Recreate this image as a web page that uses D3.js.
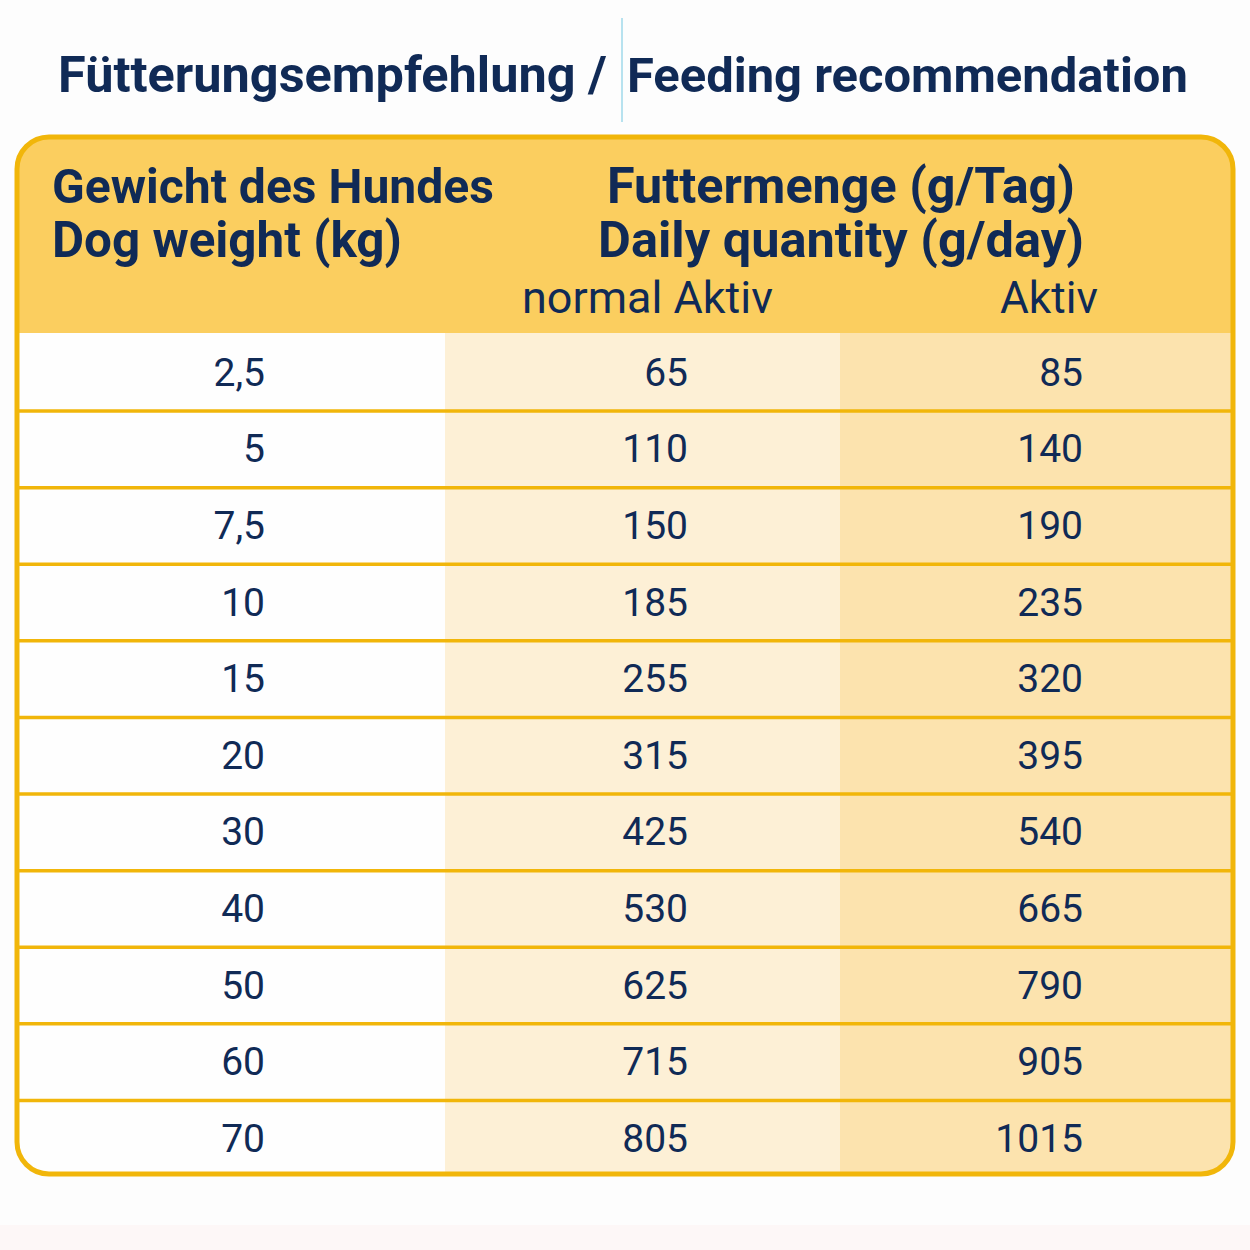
<!DOCTYPE html>
<html><head><meta charset="utf-8">
<script src="https://cdn.jsdelivr.net/npm/d3@7"></script>
<style>html,body{margin:0;padding:0;background:#fff;}svg{display:block;}</style>
</head><body>
<svg id="chart" width="1250" height="1250"></svg>
<script>
const titleParts = ["Fütterungsempfehlung /", "Feeding recommendation"];
const headerLeft = ["Gewicht des Hundes", "Dog weight (kg)"];
const headerRight = ["Futtermenge (g/Tag)", "Daily quantity (g/day)"];
const subHeaders = ["normal Aktiv", "Aktiv"];
const weights = ["2,5", "5", "7,5", "10", "15", "20", "30", "40", "50", "60", "70"];
const normalValues = [65, 110, 150, 185, 255, 315, 425, 530, 625, 715, 805];
const activeValues = [85, 140, 190, 235, 320, 395, 540, 665, 790, 905, 1015];

const svg = d3.select("#chart");
const navy = "#102a56";
const gold = "#f1b60a";
const font = "Roboto, 'Open Sans', sans-serif";

svg.append("rect").attr("width",1250).attr("height",1250).attr("fill","#fdfdfd");
svg.append("rect").attr("y",1225).attr("width",1250).attr("height",25).attr("fill","#fdf7f7");

function fitText(sel, target){
  const w = sel.node().getComputedTextLength();
  const fs = parseFloat(sel.attr("font-size"));
  sel.attr("font-size", fs*target/w);
}

// Title (one text, two spans around the thin divider)
const title = svg.append("text").attr("y",92).attr("font-family",font)
  .attr("font-weight",700).attr("fill",navy);
const t1 = title.append("tspan").attr("x",58).attr("font-size",46).text(titleParts[0]);
const t2 = title.append("tspan").attr("x",627).attr("font-size",46).text(titleParts[1]);
fitText(t1, 549);
fitText(t2, 561);
svg.append("line").attr("x1",622).attr("x2",622).attr("y1",18).attr("y2",122)
  .attr("stroke","#9fd9ea").attr("stroke-width",1.5);

// Table geometry
const box = {x:17, y:137, w:1216, h:1037, r:32};
const headerBottom = 333;
const y = d3.scaleBand().domain(d3.range(weights.length)).range([334.5, 1177]).padding(0);
const cols = ["w","n","a"];
const x = d3.scaleOrdinal().domain(cols).range([[17,445],[445,840],[840,1233]]);
const colFill = {w:"#fefefe", n:"#fdf0d6", a:"#fce3ae"};
const textRight = {w:265, n:688, a:1083};

const defs = svg.append("defs");
defs.append("clipPath").attr("id","clip").append("rect")
  .attr("x",box.x).attr("y",box.y).attr("width",box.w).attr("height",box.h).attr("rx",box.r);

const g = svg.append("g").attr("clip-path","url(#clip)");
g.append("rect").attr("x",box.x).attr("y",box.y).attr("width",box.w).attr("height",headerBottom-box.y+1)
  .attr("fill","#fbce5f");
cols.forEach(c=>{
  const [x0,x1] = x(c);
  g.append("rect").attr("x",x0).attr("y",headerBottom).attr("width",x1-x0).attr("height",box.y+box.h-headerBottom)
    .attr("fill",colFill[c]);
});
// row separators
g.selectAll("line.sep").data(d3.range(1,weights.length)).join("line").attr("class","sep")
  .attr("x1",box.x).attr("x2",box.x+box.w)
  .attr("y1",d=>y(d)).attr("y2",d=>y(d))
  .attr("stroke",gold).attr("stroke-width",3.5);

svg.append("rect").attr("x",box.x).attr("y",box.y).attr("width",box.w).attr("height",box.h).attr("rx",box.r)
  .attr("fill","none").attr("stroke",gold).attr("stroke-width",5);

// Headers: each block is one text with two lines
function headerBlock(lines, xPos, anchor, widths){
  const t = svg.append("text").attr("y",203).attr("font-family",font)
    .attr("font-weight",700).attr("font-size",44).attr("fill",navy).attr("text-anchor",anchor);
  lines.forEach((line,i)=>{
    const s = t.append("tspan").attr("x",xPos).attr("dy", i===0 ? 0 : 54).attr("font-size",44).text(line);
    fitText(s, widths[i]);
  });
}
headerBlock(headerLeft, 52, "start", [442, 350]);
headerBlock(headerRight, 841, "middle", [468, 486]);

const sh1 = svg.append("text").attr("x",522).attr("y",313).attr("font-family",font)
  .attr("font-size",36).attr("fill",navy).text(subHeaders[0]);
fitText(sh1, 251);
const sh2 = svg.append("text").attr("x",1000).attr("y",313).attr("font-family",font)
  .attr("font-size",36).attr("fill",navy).text(subHeaders[1]);
fitText(sh2, 98);

// Rows
const rows = weights.map((w,i)=>({i, w, n:normalValues[i], a:activeValues[i]}));
cols.forEach(c=>{
  svg.selectAll("text.v"+c).data(rows).join("text").attr("class","v"+c)
    .attr("x",textRight[c]).attr("y",d=>y(d.i)+y.bandwidth()/2+13)
    .attr("text-anchor","end").attr("font-family",font).attr("font-size",39)
    .attr("fill",navy).text(d=>String(d[c]));
});
</script>
</body></html>
